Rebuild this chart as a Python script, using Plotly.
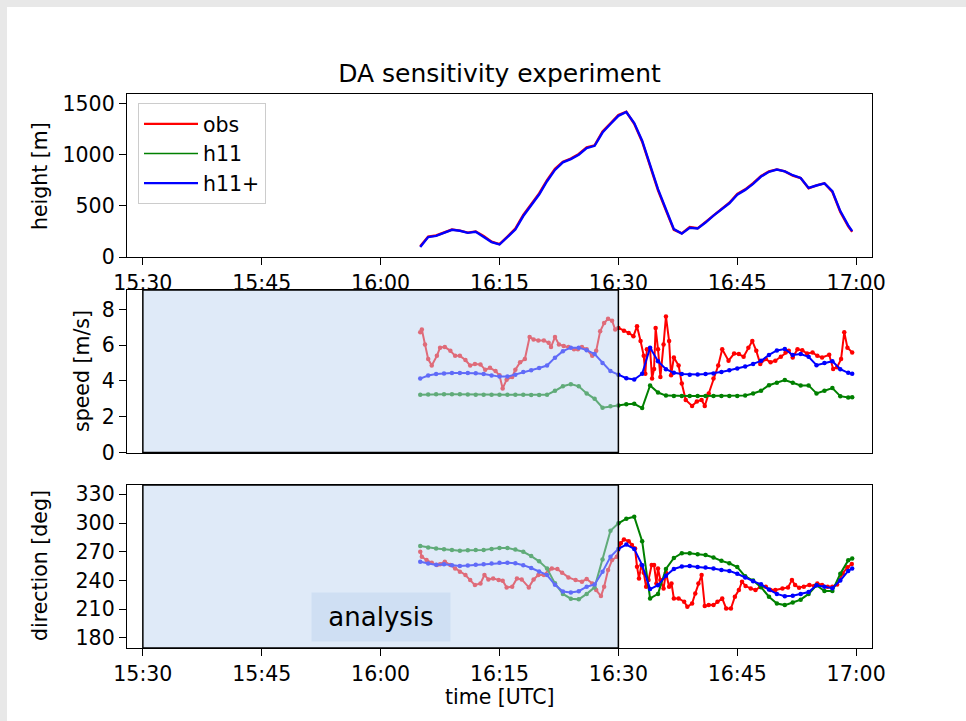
import pandas as pd
import plotly.graph_objects as go

# ---------------- data (minutes after 16:05 UTC) ----------------
DAY = "2021-06-01 "
model_min = list(range(55)) + [54.5]

obs_height = [104, 200, 210, 240, 268, 258, 238, 250, 205, 150,
              126, 200, 277, 410, 515, 620, 750, 860, 930, 960,
              1005, 1070, 1090, 1225, 1305, 1385, 1418, 1300, 1125, 880,
              650, 455, 265, 230, 292, 280, 342, 410, 465, 530,
              615, 660, 720, 790, 835, 855, 835, 795, 770, 670,
              700, 720, 636, 440, 300, 245]
hplus_height = [98, 195, 206, 236, 265, 256, 236, 247, 200, 146,
                122, 192, 268, 400, 505, 610, 740, 850, 924, 955,
                998, 1062, 1085, 1215, 1298, 1378, 1416, 1308, 1135, 892,
                662, 466, 272, 228, 286, 278, 336, 404, 460, 524,
                608, 655, 714, 785, 832, 853, 836, 798, 772, 674,
                698, 718, 642, 448, 308, 252]

h11_speed = [3.22, 3.24, 3.25, 3.25, 3.25, 3.25, 3.24, 3.23, 3.23, 3.22,
             3.22, 3.22, 3.22, 3.22, 3.21, 3.21, 3.22, 3.45, 3.7, 3.82,
             3.7, 3.3, 3.0, 2.5, 2.58, 2.63, 2.7, 2.72, 2.48, 3.75,
             3.35, 3.18, 3.16, 3.16, 3.16, 3.16, 3.16, 3.16, 3.16, 3.16,
             3.16, 3.18, 3.3, 3.45, 3.76, 3.9, 4.05, 3.9, 3.75, 3.75,
             3.3, 3.45, 3.6, 3.15, 3.08, 3.09]
hplus_speed = [4.13, 4.3, 4.38, 4.42, 4.44, 4.44, 4.44, 4.43, 4.38, 4.3,
               4.24, 4.24, 4.35, 4.5, 4.6, 4.72, 4.86, 5.3, 5.66, 5.86,
               5.86, 5.72, 5.5, 5.0, 4.55, 4.35, 4.15, 4.08, 4.4, 5.85,
               5.1, 4.65, 4.45, 4.38, 4.35, 4.36, 4.38, 4.42, 4.5, 4.6,
               4.7, 4.8, 4.95, 5.12, 5.45, 5.7, 5.78, 5.45, 5.5, 5.35,
               4.88, 5.0, 5.1, 4.65, 4.45, 4.4]

h11_dir = [276, 274.5, 273.3, 272.6, 271.8, 271.1, 271.5, 271.8, 271.8, 273,
           274, 274, 272.3, 270, 265.5, 260, 252.5, 237, 226, 221,
           220.3, 226, 232.8, 262, 292, 299.7, 304.5, 306.5, 281, 221.3,
           226, 252, 263.5, 268.5, 268.5, 267.3, 266.6, 264, 260.5, 258,
           254, 244.3, 240, 233, 223, 216, 214.3, 217, 220, 226,
           235, 229, 229, 247, 261, 263]
hplus_dir = [259.6, 257.8, 256.3, 257, 256, 255.2, 255.7, 256.3, 257, 257.8,
             258.5, 258.5, 258, 256, 253, 249.5, 245.7, 235.5, 228.5, 227.5,
             228.8, 233.5, 235.9, 249, 264.8, 273, 277.5, 273, 256, 231,
             235, 245, 252, 254.5, 255, 254, 253.5, 252.5, 251, 250,
             247, 243, 239.3, 236, 230.5, 226, 223.5, 224, 226, 228,
             235, 233.5, 232, 240, 250, 252.6]

obs_speed_min = [0.0, 0.2, 0.6, 1.0, 1.45, 2.1, 2.5, 3.1, 3.8, 4.4,
                 5.0, 5.7, 6.3, 6.9, 7.6, 8.2, 8.8, 9.5, 10.0, 10.4,
                 10.9, 11.6, 12.0, 12.6, 13.2, 13.8, 14.3, 14.9, 15.6, 16.2,
                 16.5, 17.0, 17.5, 18.1, 18.7, 19.4, 19.9, 20.4, 21.0, 21.7,
                 22.2, 22.7, 23.2, 23.7, 24.2, 24.6, 25.0, 25.7, 26.3, 26.9,
                 27.35, 27.8, 28.2, 28.4, 28.6, 29.0, 29.25, 29.5, 29.7, 30.0,
                 30.3, 30.7, 31.0, 31.4, 31.65, 32.0, 32.6, 33.0, 33.5, 34.3,
                 34.9, 35.5, 35.9, 36.4, 37.0, 37.6, 38.1, 38.9, 39.6, 40.2,
                 40.8, 41.4, 41.9, 42.4, 42.9, 43.6, 44.2, 44.8, 45.5, 46.1,
                 46.5, 47.0, 47.6, 48.2, 48.8, 49.5, 50.1, 50.7, 51.6, 52.1,
                 52.6, 53.1, 53.5, 53.9, 54.5]
obs_speed = [6.72, 6.87, 6.04, 5.22, 4.86, 5.4, 5.86, 5.9, 5.68, 5.4,
             5.4, 5.17, 4.86, 4.95, 4.92, 4.62, 4.73, 4.55, 4.31, 3.58,
             4.07, 4.22, 4.62, 5.04, 5.22, 6.45, 6.32, 6.26, 6.26, 6.13,
             5.9, 6.45, 6.04, 5.95, 5.9, 5.77, 5.77, 5.9, 5.77, 5.4,
             5.68, 6.77, 7.23, 7.47, 7.36, 6.87, 6.96, 6.81, 6.68, 6.5,
             7.05, 6.23, 5.4, 4.4, 5.77, 5.77, 4.13, 4.67, 6.96, 5.77,
             4.22, 6.04, 7.6, 6.23, 4.31, 5.31, 4.86, 3.85, 2.94, 2.6,
             2.85, 2.94, 2.6, 3.3, 4.13, 4.86, 5.77, 5.13, 5.53, 5.5,
             5.35, 5.86, 6.23, 5.68, 4.95, 5.22, 5.04, 5.13, 5.35, 5.59,
             5.68, 5.31, 5.77, 5.71, 5.53, 5.59, 5.4, 5.31, 5.46, 4.67,
             4.77, 5.22, 6.72, 5.86, 5.59]

obs_dir_min = [0.0, 0.2, 0.8, 1.45, 2.1, 2.5, 3.1, 3.8, 4.4, 5.0,
               5.7, 6.3, 6.9, 7.6, 8.1, 8.6, 9.2, 9.9, 10.4, 10.9,
               11.6, 12.2, 12.8, 13.7, 14.3, 14.9, 15.6, 16.2, 16.6, 17.3,
               17.9, 18.7, 19.6, 20.4, 21.0, 21.7, 22.2, 22.8, 23.2, 23.7,
               24.2, 24.8, 25.3, 25.7, 26.3, 26.7, 27.1, 27.35, 27.6, 27.9,
               28.2, 28.5, 28.8, 29.2, 29.5, 29.8, 30.0, 30.3, 30.7, 31.0,
               31.4, 31.7, 32.0, 32.6, 33.3, 33.7, 34.3, 34.7, 35.1, 35.5,
               35.9, 36.4, 37.0, 37.5, 38.1, 38.6, 39.2, 39.7, 40.2, 40.6,
               41.05, 41.7, 42.3, 42.9, 43.6, 44.2, 44.8, 45.7, 46.4, 46.9,
               47.3, 47.8, 48.4, 49.1, 49.7, 50.1, 50.7, 51.4, 52.0, 52.6,
               53.3, 53.9, 54.45]
obs_dir = [270, 264.8, 261.3, 258.5, 256.1, 257, 259.6, 256.1, 252.6, 249.1,
           245.7, 240.4, 235.2, 236.9, 245.7, 241.1, 242.2, 240.4, 239.7, 232.8,
           233.5, 242.2, 241.1, 232.8, 241.1, 245.7, 245.7, 250.9, 252.6, 251.9,
           248.1, 243.2, 240.4, 238.7, 241.5, 236.9, 230, 223.7, 233.5, 250.9,
           261.3, 264.8, 278.8, 282.9, 281, 277, 273.5, 254.4, 242.2, 256.1,
           248.1, 233.5, 240.4, 256.1, 256.1, 236.9, 252.6, 240.4, 231.7, 248.1,
           233.5, 236.9, 221.3, 221.3, 217.8, 212.6, 216, 226.5, 236.9, 245.7,
           213.3, 214.3, 214.3, 217.8, 221.3, 210.8, 210.8, 223, 230, 238.7,
           234.2, 231.7, 230, 233.5, 233.5, 230, 230, 231.7, 232.8, 240.4,
           235.2, 232.4, 233.5, 235.2, 234.2, 236.9, 235.2, 233.5, 233.5, 235.9,
           247.4, 253.7, 257.2]

x_ticks = ["15:30", "15:45", "16:00", "16:15", "16:30", "16:45", "17:00"]
analysis_window = ["15:30", "16:30"]
x_limits = ["15:28", "17:02"]


def to_time(mins):
    base = pd.Timestamp(DAY + "16:05:00")
    return [base + pd.Timedelta(minutes=m) for m in mins]


def hm(s):
    return pd.Timestamp(DAY + s)


# ---------------- figure ----------------
W, H = 966, 721
FONT = "DejaVu Sans"
RED, GREEN, BLUE = "#ff0000", "#008000", "#0000ff"


def py(p):
    return 1 - p / H


fig = go.Figure()
tm = to_time(model_min)

# top panel
fig.add_trace(go.Scatter(x=tm, y=obs_height, mode="lines", name="obs",
                         line=dict(color=RED, width=2.4), legendgroup="a",
                         xaxis="x", yaxis="y"))
fig.add_trace(go.Scatter(x=[None], y=[None], mode="lines", name="h11",
                         line=dict(color=GREEN, width=1.6), legendgroup="b",
                         xaxis="x", yaxis="y"))
fig.add_trace(go.Scatter(x=tm, y=hplus_height, mode="lines", name="h11+",
                         line=dict(color=BLUE, width=2.4), legendgroup="c",
                         xaxis="x", yaxis="y"))

# middle & bottom panels
for xa, ya, obs_t, obs_v, g_v, b_v in [
        ("x2", "y2", obs_speed_min, obs_speed, h11_speed, hplus_speed),
        ("x3", "y3", obs_dir_min, obs_dir, h11_dir, hplus_dir)]:
    fig.add_trace(go.Scatter(x=to_time(obs_t), y=obs_v, mode="lines+markers",
                             line=dict(color=RED, width=2), marker=dict(size=4.5, color=RED),
                             showlegend=False, xaxis=xa, yaxis=ya))
    fig.add_trace(go.Scatter(x=tm, y=g_v, mode="lines+markers",
                             line=dict(color=GREEN, width=2), marker=dict(size=4.5, color=GREEN),
                             showlegend=False, xaxis=xa, yaxis=ya))
    fig.add_trace(go.Scatter(x=tm, y=b_v, mode="lines+markers",
                             line=dict(color=BLUE, width=2), marker=dict(size=4.5, color=BLUE),
                             showlegend=False, xaxis=xa, yaxis=ya))

xdom = [127 / W, 872 / W]
common_x = dict(domain=xdom, type="date", range=[hm(x_limits[0]), hm(x_limits[1])],
                showgrid=False, zeroline=False, showline=True, mirror=True,
                linecolor="black", linewidth=1.4, automargin=False,
                tickvals=[hm(t) for t in x_ticks], ticktext=x_ticks,
                ticks="outside", ticklen=7, tickwidth=1.4, tickcolor="black",
                tickfont=dict(family=FONT, size=20.5, color="black"))
common_y = dict(showgrid=False, zeroline=False, showline=True, mirror=True,
                linecolor="black", linewidth=1.4, ticks="outside", ticklen=7,
                tickwidth=1.4, tickcolor="black", automargin=False,
                tickfont=dict(family=FONT, size=20.5, color="black"))

fig.update_layout(
    xaxis=dict(common_x, anchor="y"),
    xaxis2=dict(common_x, anchor="y2", showticklabels=False, ticks=""),
    xaxis3=dict(common_x, anchor="y3"),
    yaxis=dict(common_y, anchor="x", domain=[py(257), py(94)], range=[0, 1591],
               tickvals=[0, 500, 1000, 1500]),
    yaxis2=dict(common_y, anchor="x2", domain=[py(452.5), py(290)], range=[0, 9.08],
                tickvals=[0, 2, 4, 6, 8]),
    yaxis3=dict(common_y, anchor="x3", domain=[py(648), py(485)], range=[169.5, 339.7],
                tickvals=[180, 210, 240, 270, 300, 330]),
)

shapes = [
    dict(type="rect", xref="paper", yref="paper", x0=0, x1=1, y0=py(7), y1=1,
         fillcolor="#e8e8e8", line=dict(width=0), layer="below"),
    dict(type="rect", xref="paper", yref="paper", x0=0, x1=7 / W, y0=0, y1=1,
         fillcolor="#e8e8e8", line=dict(width=0), layer="below"),
]
for xa, ya in [("x2", "y2"), ("x3", "y3")]:
    shapes.append(dict(type="rect", xref=xa, yref=ya + " domain",
                       x0=hm(analysis_window[0]), x1=hm(analysis_window[1]), y0=0, y1=1,
                       fillcolor="rgba(192,214,242,0.5)",
                       line=dict(color="black", width=1.5), layer="above"))

lab = dict(xref="paper", yref="paper", showarrow=False, xanchor="center", yanchor="middle",
           font=dict(family=FONT, size=20.5, color="black"))
annotations = [
    dict(lab, text="height [m]", x=40 / W, y=py(176), textangle=-90),
    dict(lab, text="speed [m/s]", x=82 / W, y=py(371), textangle=-90),
    dict(lab, text="direction [deg]", x=40 / W, y=py(566), textangle=-90),
    dict(lab, text="time [UTC]", x=499.5 / W, y=py(697)),
    dict(text="analysis", x=hm("16:00"), y=202, xref="x3", yref="y3", showarrow=False,
         xanchor="center", yanchor="middle",
         font=dict(family=FONT, size=26, color="black"),
         bgcolor="rgba(207,223,243,1)", borderpad=8, width=122, height=32),
]

fig.update_layout(
    width=W, height=H,
    margin=dict(l=0, r=0, t=0, b=0, autoexpand=False),
    paper_bgcolor="white", plot_bgcolor="white",
    font=dict(family=FONT, color="black"),
    title=dict(text="DA sensitivity experiment", x=499.5 / W, y=py(73),
               xanchor="center", yanchor="middle", xref="paper", yref="paper",
               font=dict(family=FONT, size=25, color="black")),
    legend=dict(x=138 / W, y=py(103), xanchor="left", yanchor="top",
                bgcolor="rgba(255,255,255,0.85)", bordercolor="#cccccc", borderwidth=1,
                font=dict(family=FONT, size=20.5, color="black"),
                tracegroupgap=4, traceorder="normal", itemwidth=54),
    shapes=shapes,
    annotations=annotations,
)

fig.write_html("out.html")
